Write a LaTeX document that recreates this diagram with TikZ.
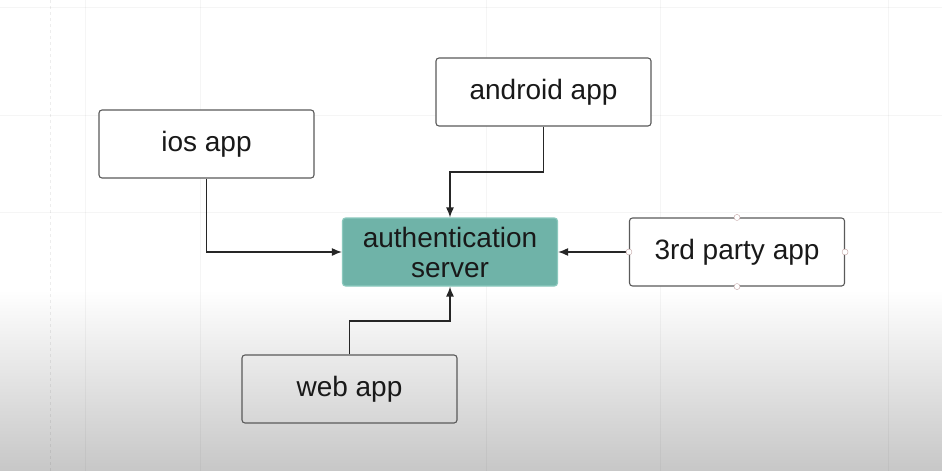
\documentclass[tikz,border=0pt]{standalone}
\usepackage{fontspec}
\setmainfont{Liberation Sans}
\usetikzlibrary{positioning, arrows.meta}
\definecolor{authteal}{HTML}{6FB3A8}
\definecolor{authedge}{HTML}{8CC9BE}
\definecolor{boxedge}{HTML}{5A5A5A}

\begin{document}
\begin{tikzpicture}[x=1pt, y=-1pt,
	app/.style={draw=boxedge, line width=1.1pt, rounded corners=3pt, fill=white, minimum width=215pt, minimum height=68pt, inner sep=0pt, text=black!90, font=\fontsize{28}{30}\selectfont, align=center},
	link/.style={draw=black!85, line width=1.4pt, -{Latex[length=10pt,width=8pt]}},
	handle/.style={draw=red!20!gray!60, fill=white, circle, inner sep=0pt, minimum size=6pt}]
	% background and faint grid
	\useasboundingbox (0,0) rectangle (942,471);
	\fill[white] (0,0) rectangle (942,290);
	\shade[top color=white, bottom color=black!22] (0,290) rectangle (942,471);
	\foreach \gx in {85,200,486,660,888}
		\draw[black, opacity=0.04] (\gx,0) -- (\gx,471);
	\draw[black, opacity=0.07, dashed] (50,0) -- (50,471);
	\foreach \gy in {7,115,212}
		\draw[black, opacity=0.04] (0,\gy) -- (942,\gy);
	% boxes
	\node[app] (ios) at (206.5,144) {ios app};
	\node[app] (android) at (543.5,92) {android app};
	\node[app, fill=authteal, draw=authedge] (auth) at (450,252) {authentication\\server};
	\node[app] (third) at (737,252) {3rd party app};
	\node[app, fill=none] (web) at (349.5,389) {web app};
	% connectors
	\coordinate (androidbend) at (543.5,172);
	\coordinate (webbend) at (349.5,321);
	\path[link] (ios.south) |- (auth.west);
	\path[link] (android.south) -- (androidbend) -| (auth.north);
	\path[link] (third.west) -- (auth.east);
	\path[link] (web.north) -- (webbend) -| (auth.south);
	% selection handles
	\foreach \side in {north, south, east, west}
		\node[handle] at (third.\side) {};
\end{tikzpicture}
\end{document}
